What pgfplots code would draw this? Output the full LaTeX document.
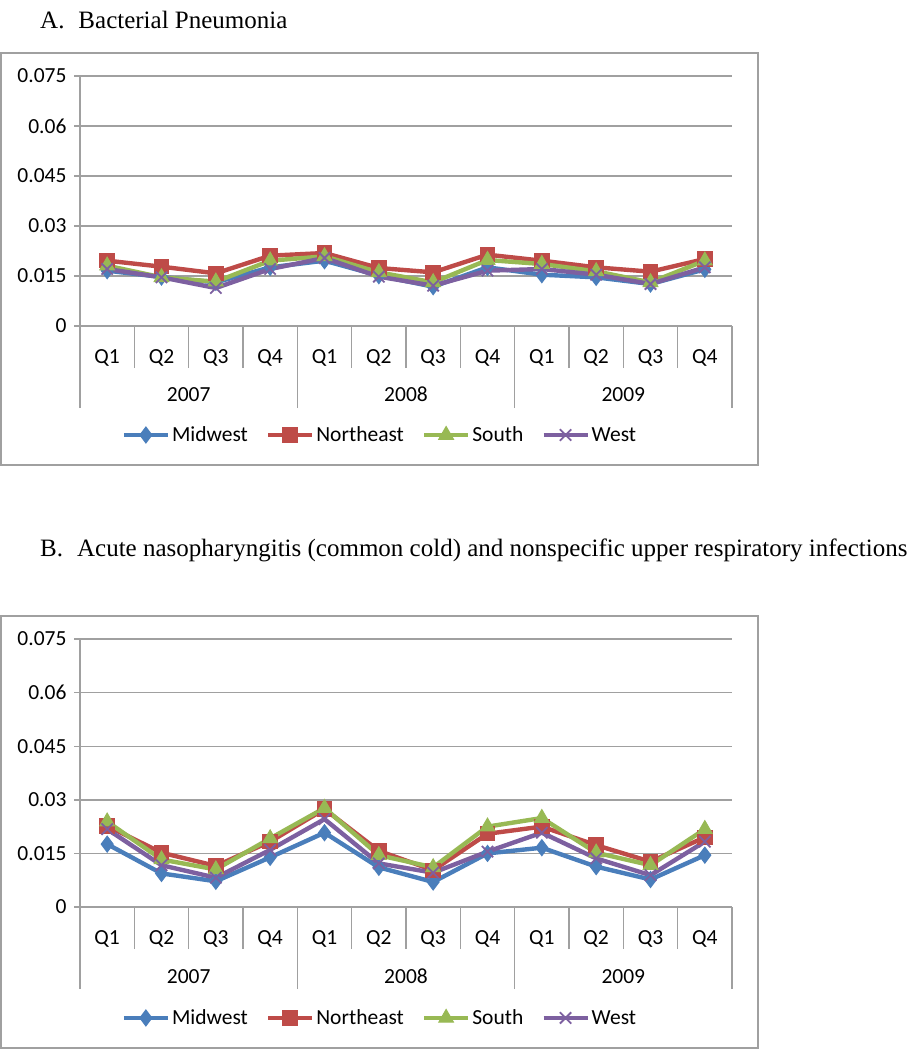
\documentclass[border=0pt]{standalone}
\usepackage{pgfplots}
\pgfplotsset{compat=1.18}
\usepackage{pgfplotstable}
\usepackage{fontspec}
\setmainfont{Carlito}
\newfontfamily\titlefont{Liberation Serif}
\definecolor{cmw}{RGB}{74,126,187}
\definecolor{cne}{RGB}{190,75,72}
\definecolor{cso}{RGB}{152,185,84}
\definecolor{cwe}{RGB}{125,96,160}
\definecolor{gridc}{RGB}{160,160,160}

\pgfplotstableread{
x mw ne so we
0 0.0166 0.0196 0.0181 0.0171
1 0.0147 0.0178 0.0146 0.0146
2 0.0131 0.0158 0.0133 0.0114
3 0.0176 0.0211 0.0196 0.0171
4 0.0196 0.0219 0.0209 0.0204
5 0.0151 0.0174 0.0161 0.0148
6 0.0118 0.0161 0.0131 0.0121
7 0.0176 0.0214 0.0198 0.0166
8 0.0154 0.0196 0.0186 0.0171
9 0.0146 0.0176 0.0164 0.0154
10 0.0126 0.0163 0.0131 0.0126
11 0.0170 0.0201 0.0196 0.0176
}\dataA

\pgfplotstableread{
x mw ne so we
0 0.0176 0.0227 0.0239 0.0218
1 0.0094 0.0152 0.0133 0.0117
2 0.0072 0.0115 0.0105 0.0082
3 0.0139 0.0183 0.0192 0.0160
4 0.0208 0.0274 0.0277 0.0246
5 0.0111 0.0157 0.0145 0.0122
6 0.0070 0.0103 0.0111 0.0096
7 0.0150 0.0205 0.0225 0.0155
8 0.0166 0.0225 0.0249 0.0208
9 0.0113 0.0173 0.0152 0.0136
10 0.0077 0.0127 0.0117 0.0089
11 0.0145 0.0195 0.0218 0.0183
}\dataB

\tikzset{yearlab/.style={font=\fontsize{21.5}{24}\selectfont, anchor=base}}

\pgfplotsset{
  excel/.style={
    scale only axis, width=652pt,
    xmin=-0.5, xmax=11.5, ymin=0, ymax=0.075,
    clip=false,
    scaled y ticks=false,
    axis x line*=bottom, axis y line*=left,
    axis line style={draw=gridc, line width=1.4pt},
    ytick={0,0.015,0.03,0.045,0.06,0.075},
    yticklabels={0,0.015,0.03,0.045,0.06,0.075},
    ymajorgrids, grid style={draw=gridc, line width=1.4pt},
    xtick={0,...,11},
    xticklabels={Q1,Q2,Q3,Q4,Q1,Q2,Q3,Q4,Q1,Q2,Q3,Q4},
    tick align=outside,
    major tick length=6pt,
    x tick style={draw=none},
    y tick style={draw=gridc, line width=1.4pt},
    xticklabel style={anchor=center, yshift=-26pt},
    yticklabel style={xshift=-4pt},
    extra x ticks={-0.5,0.5,1.5,2.5,3.5,4.5,5.5,6.5,7.5,8.5,9.5,10.5,11.5},
    extra x tick labels={},
    extra x tick style={major tick length=42pt, x tick style={draw=gridc, line width=1.4pt}, grid=none},
    minor xtick={-0.5,3.5,7.5,11.5},
    minor tick length=82pt,
    minor x tick style={draw=gridc, line width=1.4pt},
    tick label style={font=\fontsize{21.5}{24}\selectfont},
    legend columns=4,
    legend style={draw=none, fill=none, font=\fontsize{21.5}{24}\selectfont, anchor=center,
      /tikz/every even column/.append style={column sep=16pt}},
    legend image code/.code={\draw[mark repeat=2,mark phase=2] plot coordinates {(0pt,0pt) (22pt,0pt) (44pt,0pt)};},
    every axis plot/.append style={line width=4.4pt},
  },
  smw/.style={color=cmw, mark=diamond*, mark size=8pt, mark options={solid, line width=1pt, fill=cmw}},
  sne/.style={color=cne, mark=square*, mark size=7.2pt, mark options={solid, line width=1pt, fill=cne}},
  sso/.style={color=cso, mark=triangle*, mark size=8.5pt, mark options={solid, line width=1pt, fill=cso}},
  swe/.style={color=cwe, mark=x, mark size=8pt, mark options={solid, line width=1.8pt}},
}

\begin{document}
\begin{tikzpicture}
\useasboundingbox (0pt,0pt) rectangle (910pt,-1050pt);
% Panel A
\node[anchor=base west, inner sep=0pt, font=\titlefont\fontsize{25}{30}\selectfont] at (40pt,-28pt) {A.\hspace{14pt}Bacterial Pneumonia};
\draw[gridc, line width=1.6pt] (1pt,-53pt) rectangle (758pt,-465pt);
\begin{axis}[excel, at={(80pt,-326pt)}, anchor=south west, height=250pt,
  legend style={at={(0.46,-0.436)}}]
\addplot[smw] table[x=x,y=mw]{\dataA};
\addplot[sne] table[x=x,y=ne]{\dataA};
\addplot[sso] table[x=x,y=so]{\dataA};
\addplot[swe] table[x=x,y=we]{\dataA};
\legend{Midwest,Northeast,South,West}
\node[yearlab] at (axis cs:1.5,0) [yshift=-75pt] {2007};
\node[yearlab] at (axis cs:5.5,0) [yshift=-75pt] {2008};
\node[yearlab] at (axis cs:9.5,0) [yshift=-75pt] {2009};
\end{axis}
% Panel B
\node[anchor=base west, inner sep=0pt, font=\titlefont\fontsize{25}{30}\selectfont] at (40pt,-556pt) {B.\hspace{14pt}Acute nasopharyngitis (common cold) and nonspecific upper respiratory infections};
\draw[gridc, line width=1.6pt] (1pt,-616pt) rectangle (758pt,-1048pt);
\begin{axis}[excel, at={(80pt,-907pt)}, anchor=south west, height=268pt,
  legend style={at={(0.46,-0.414)}}]
\addplot[smw] table[x=x,y=mw]{\dataB};
\addplot[sne] table[x=x,y=ne]{\dataB};
\addplot[sso] table[x=x,y=so]{\dataB};
\addplot[swe] table[x=x,y=we]{\dataB};
\legend{Midwest,Northeast,South,West}
\node[yearlab] at (axis cs:1.5,0) [yshift=-76pt] {2007};
\node[yearlab] at (axis cs:5.5,0) [yshift=-76pt] {2008};
\node[yearlab] at (axis cs:9.5,0) [yshift=-76pt] {2009};
\end{axis}
\end{tikzpicture}
\end{document}
